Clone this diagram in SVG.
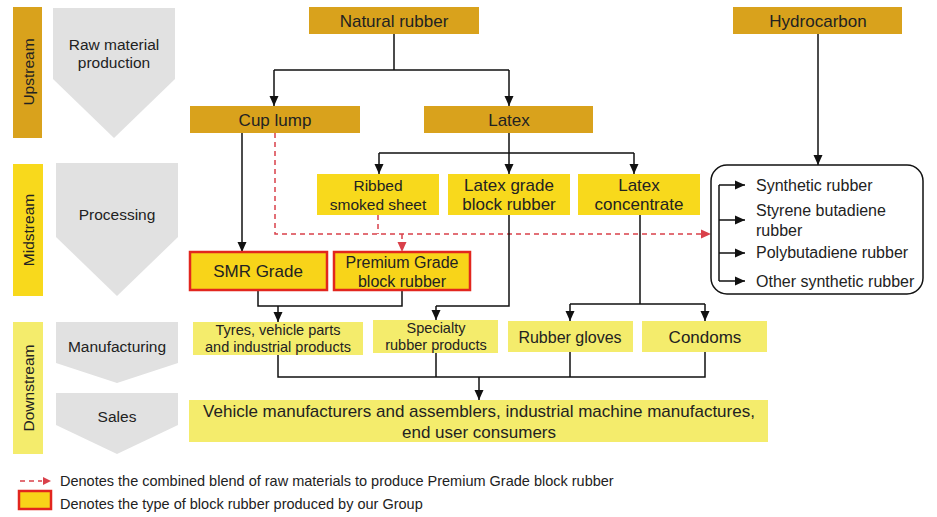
<svg xmlns="http://www.w3.org/2000/svg" width="937" height="517" viewBox="0 0 937 517">
<style>
text{font-family:"Liberation Sans",Arial,sans-serif;fill:#222;text-anchor:middle}
.up{fill:#D9A21C}
.mid{fill:#F8D91C}
.down{fill:#F4EC6C}
.chev{fill:#E1E1E1}
.own{fill:#F8D419;stroke:#E2261E;stroke-width:2.5}
.c{fill:none;stroke:#111;stroke-width:1.5}
.d{fill:none;stroke:#D9404A;stroke-width:1.5;stroke-dasharray:5 4}
.f17{font-size:17px}
.f16{font-size:16px}
.f155{font-size:15.5px}
.f145{font-size:14.5px}
.s{text-anchor:start}
</style>
<defs>
<marker id="a" markerUnits="userSpaceOnUse" markerWidth="10" markerHeight="10" viewBox="0 0 10 10" refX="10" refY="5" orient="auto"><path d="M0,0.5 L10,5 L0,9.5 z" fill="#111"/></marker>
<marker id="r" markerUnits="userSpaceOnUse" markerWidth="10" markerHeight="10" viewBox="0 0 10 10" refX="10" refY="5" orient="auto"><path d="M0,0.5 L10,5 L0,9.5 z" fill="#D9404A"/></marker>
</defs>
<rect width="937" height="517" fill="#fff"/>

<g id="stages">
<g id="upstream"><rect class="up" x="13" y="7" width="29" height="131"/><text class="f155" transform="translate(33.5,72) rotate(-90)">Upstream</text></g>
<g id="midstream"><rect class="mid" x="13" y="164" width="30" height="132"/><text class="f155" transform="translate(34,230) rotate(-90)">Midstream</text></g>
<g id="downstream"><rect class="down" x="13" y="322" width="30" height="132"/><text class="f155" transform="translate(34,388) rotate(-90)">Downstream</text></g>
<g id="raw"><polygon class="chev" points="53,8 175,8 175,79 114,138 53,79"/><text class="f155" x="114" y="50">Raw material</text><text class="f155" x="114" y="68">production</text></g>
<g id="processing"><polygon class="chev" points="56,163 178,163 178,237 117,296 56,237"/><text class="f155" x="117" y="220">Processing</text></g>
<g id="manufacturing"><polygon class="chev" points="56,322 178,322 178,363 117,383 56,363"/><text class="f155" x="117" y="352">Manufacturing</text></g>
<g id="sales"><polygon class="chev" points="56,393 178,393 178,425 117,454 56,425"/><text class="f155" x="117" y="422">Sales</text></g>
</g>

<g id="connectors">
<path class="c" d="M394,34 V70 M274,70 H509" />
<path class="c" d="M274,70 V106" marker-end="url(#a)"/>
<path class="c" d="M509,70 V106" marker-end="url(#a)"/>
<path class="c" d="M818,34 V165" marker-end="url(#a)"/>
<path class="c" d="M509,133 V153 M379,153 H634"/>
<path class="c" d="M379,153 V174" marker-end="url(#a)"/>
<path class="c" d="M509,153 V174" marker-end="url(#a)"/>
<path class="c" d="M634,153 V174" marker-end="url(#a)"/>
<path class="c" d="M242,133 V252" marker-end="url(#a)"/>
<path class="d" d="M275,133 V234 H703"/>
<path d="M701,229.5 L711,234 L701,238.5 z" fill="#D9404A"/>
<path class="d" d="M378,215 V234"/>
<path class="d" d="M402,234 V252" marker-end="url(#r)"/>
<path class="c" d="M719,185 V281"/>
<path class="c" d="M719,185 H745" marker-end="url(#a)"/>
<path class="c" d="M719,220 H745" marker-end="url(#a)"/>
<path class="c" d="M719,253 H745" marker-end="url(#a)"/>
<path class="c" d="M719,281 H745" marker-end="url(#a)"/>
<path class="c" d="M258,290 V306 H402 V290"/>
<path class="c" d="M278,306 V322" marker-end="url(#a)"/>
<path class="c" d="M509,215 V306 H436"/>
<path class="c" d="M436,306 V320" marker-end="url(#a)"/>
<path class="c" d="M640,215 V304 M570,304 H705"/>
<path class="c" d="M570,304 V321" marker-end="url(#a)"/>
<path class="c" d="M705,304 V321" marker-end="url(#a)"/>
<path class="c" d="M278,355 V377 H705 V352 M436,353 V377 M570,352 V377"/>
<path class="c" d="M479,377 V400" marker-end="url(#a)"/>
</g>

<g id="natural-rubber"><rect class="up" x="309" y="7" width="170" height="27"/><text class="f17" x="394" y="27">Natural rubber</text></g>
<g id="hydrocarbon"><rect class="up" x="733" y="7" width="169" height="27"/><text class="f17" x="818" y="27">Hydrocarbon</text></g>
<g id="cup-lump"><rect class="up" x="190" y="106" width="170" height="27"/><text class="f17" x="275" y="126">Cup lump</text></g>
<g id="latex"><rect class="up" x="424" y="106" width="169" height="27"/><text class="f17" x="509" y="126">Latex</text></g>

<g id="ribbed"><rect class="mid" x="317" y="174" width="122" height="41"/><text class="f155" x="378" y="191">Ribbed</text><text class="f155" x="378" y="210">smoked sheet</text></g>
<g id="latex-grade"><rect class="mid" x="448" y="174" width="122" height="41"/><text class="f17" x="509" y="191">Latex grade</text><text class="f17" x="509" y="210">block rubber</text></g>
<g id="latex-concentrate"><rect class="mid" x="578" y="174" width="122" height="41"/><text class="f17" x="639" y="191">Latex</text><text class="f17" x="639" y="210">concentrate</text></g>

<g id="synthetic">
<rect x="711" y="165" width="212" height="129" rx="16" fill="none" stroke="#111" stroke-width="1.5"/>
<text class="f16 s" x="756" y="191">Synthetic rubber</text>
<text class="f16 s" x="756" y="216">Styrene butadiene</text>
<text class="f16 s" x="756" y="236">rubber</text>
<text class="f16 s" x="756" y="258">Polybutadiene rubber</text>
<text class="f16 s" x="756" y="287">Other synthetic rubber</text>
</g>

<g id="smr"><rect class="own" x="190" y="252" width="137" height="38"/><text class="f17" x="258" y="277">SMR Grade</text></g>
<g id="premium"><rect class="own" x="334" y="252" width="136" height="38"/><text class="f16" x="402" y="268">Premium Grade</text><text class="f16" x="402" y="287">block rubber</text></g>

<g id="tyres"><rect class="down" x="193" y="322" width="170" height="33"/><text class="f145" x="278" y="335">Tyres, vehicle parts</text><text class="f145" x="278" y="352">and industrial products</text></g>
<g id="specialty"><rect class="down" x="373" y="320" width="125" height="33"/><text class="f145" x="436" y="333">Specialty</text><text class="f145" x="436" y="350">rubber products</text></g>
<g id="gloves"><rect class="down" x="508" y="321" width="125" height="31"/><text class="f16" x="570" y="343">Rubber gloves</text></g>
<g id="condoms"><rect class="down" x="642" y="321" width="125" height="31"/><text class="f17" x="705" y="343">Condoms</text></g>
<g id="consumers"><rect class="down" x="189" y="400" width="579" height="42"/><text class="f17" x="479" y="417">Vehicle manufacturers and assemblers, industrial machine manufactures,</text><text class="f17" x="479" y="438">end user consumers</text></g>

<g id="legend">
<path class="d" d="M20,481 H42" stroke-dasharray="4 3"/>
<path d="M43,477 L51,481 L43,485 z" fill="#D9404A"/>
<text class="f145 s" x="60" y="486">Denotes the combined blend of raw materials to produce Premium Grade block rubber</text>
<rect class="own" x="19" y="491" width="32" height="18"/>
<text class="f145 s" x="60" y="509">Denotes the type of block rubber produced by our Group</text>
</g>
</svg>
